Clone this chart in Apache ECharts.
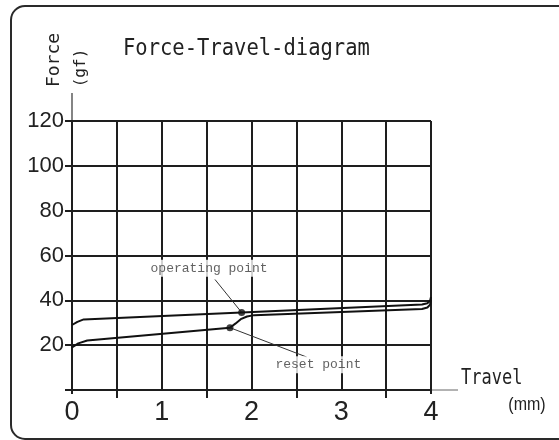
<!DOCTYPE html>
<html>
<head>
<meta charset="utf-8">
<script src="https://cdn.jsdelivr.net/npm/echarts@6/dist/echarts.min.js"></script>
<style>
  html, body { margin: 0; padding: 0; background: #fff; }
  #chart { width: 559px; height: 440px; }
</style>
</head>
<body>
<div id="chart"></div>
<script>
// travel (mm) / force (gf)
const operatingX = [0, 0.06, 0.13, 1.89, 3.9, 3.96, 3.99, 4.0];
const operatingY = [29, 30.4, 31.5, 34.6, 38.1, 38.7, 39.8, 41.5];
const resetX = [0, 0.07, 0.17, 1.76, 1.82, 1.88, 1.95, 2.03, 3.9, 3.96, 3.99, 4.0];
const resetY = [19, 20.8, 22.1, 27.8, 29.6, 31.6, 32.8, 33.4, 36.1, 36.8, 38.1, 40.2];

const operatingPoint = [1.89, 34.6];
const resetPoint = [1.76, 27.8];

// annotation anchors (data coords)
const operatingLabelAt = [1.527, 54.3];
const operatingLeaderFrom = [1.593, 49.3];
const resetLabelAt = [2.745, 11.3];
const resetLeaderTo = [2.615, 14.7];

const xTicks = [0, 1, 2, 3, 4];
const yTicks = [0, 20, 40, 60, 80, 100, 120];

const zip = (xs, ys) => xs.map((x, i) => [x, ys[i]]);

const ink = '#1e1e1e';
const monoFont = '"DejaVu Sans Mono", monospace';

const chart = echarts.init(document.getElementById('chart'));

const baseGraphic = [
  {
    id: 'frame',
    type: 'rect',
    shape: { x: 11, y: 6, width: 640, height: 433, r: 14 },
    style: { fill: null, stroke: '#2a2a2a', lineWidth: 2 },
    silent: true
  },
  {
    id: 'title',
    type: 'text',
    x: 123, y: 49,
    scaleY: 1.1,
    style: {
      text: 'Force-Travel-diagram',
      font: '20.5px ' + monoFont,
      fill: '#222',
      verticalAlign: 'middle',
      align: 'left'
    }
  },
  {
    id: 'yname',
    type: 'text',
    x: 54, y: 60,
    rotation: Math.PI / 2,
    style: {
      text: 'Force',
      font: '18px ' + monoFont,
      fill: '#222',
      align: 'center',
      verticalAlign: 'middle'
    }
  },
  {
    id: 'yunit',
    type: 'text',
    x: 81, y: 68,
    rotation: Math.PI / 2,
    style: {
      text: '(gf)',
      font: '16px ' + monoFont,
      fill: '#222',
      align: 'center',
      verticalAlign: 'middle'
    }
  },
  {
    id: 'xname',
    type: 'text',
    x: 461, y: 378,
    scaleY: 1.25,
    style: {
      text: 'Travel',
      font: '17px ' + monoFont,
      fill: '#222',
      align: 'left',
      verticalAlign: 'middle'
    }
  },
  {
    id: 'xunit',
    type: 'text',
    x: 527, y: 405,
    scaleY: 1.15,
    style: {
      text: '(mm)',
      font: '16px "Liberation Sans", Arial, sans-serif',
      fill: '#222',
      align: 'center',
      verticalAlign: 'middle'
    }
  }
];

chart.setOption({
  animation: false,
  backgroundColor: '#fff',
  grid: { left: 72, right: 128, top: 121, bottom: 50, containLabel: false },
  xAxis: {
    type: 'value',
    min: xTicks[0],
    max: xTicks[xTicks.length - 1],
    interval: 1,
    axisLine: { show: true, lineStyle: { color: ink, width: 2 } },
    axisTick: { show: false },
    minorTick: { show: true, splitNumber: 2, length: 8, lineStyle: { color: ink, width: 2 } },
    axisLabel: {
      margin: 9,
      fontFamily: '"Liberation Sans", Arial, sans-serif',
      fontSize: 27,
      color: '#222'
    },
    splitLine: { show: true, lineStyle: { color: ink, width: 2 } },
    minorSplitLine: { show: true, lineStyle: { color: ink, width: 2 } }
  },
  yAxis: {
    type: 'value',
    min: yTicks[0],
    max: yTicks[yTicks.length - 1],
    interval: 20,
    axisLine: { show: true, lineStyle: { color: ink, width: 2 } },
    axisTick: { show: true, length: 7, lineStyle: { color: ink, width: 2 } },
    axisLabel: {
      formatter: v => (v === 0 ? '' : String(v)),
      margin: 8,
      fontFamily: '"Liberation Sans", Arial, sans-serif',
      fontSize: 22,
      color: '#222'
    },
    splitLine: { show: true, lineStyle: { color: ink, width: 2 } }
  },
  series: [
    {
      name: 'operating',
      type: 'line',
      data: zip(operatingX, operatingY),
      symbol: 'none',
      lineStyle: { color: '#111', width: 2 },
      z: 3
    },
    {
      name: 'reset',
      type: 'line',
      data: zip(resetX, resetY),
      symbol: 'none',
      lineStyle: { color: '#111', width: 2 },
      z: 3
    },
    {
      name: 'leader-op',
      type: 'line',
      data: [operatingLeaderFrom, operatingPoint],
      symbol: 'none',
      lineStyle: { color: '#333', width: 1 },
      z: 3
    },
    {
      name: 'leader-reset',
      type: 'line',
      data: [resetPoint, resetLeaderTo],
      symbol: 'none',
      lineStyle: { color: '#333', width: 1 },
      z: 3
    },
    {
      name: 'points',
      type: 'scatter',
      data: [operatingPoint, resetPoint],
      symbol: 'circle',
      symbolSize: 7,
      itemStyle: { color: '#111' },
      z: 4
    },
    {
      name: 'labels',
      type: 'scatter',
      symbolSize: 0,
      data: [
        { value: operatingLabelAt, name: 'operating point' },
        { value: resetLabelAt, name: 'reset point' }
      ],
      label: {
        show: true,
        position: 'inside',
        formatter: p => p.name,
        fontFamily: '"Liberation Mono", "Courier New", monospace',
        fontSize: 13,
        color: '#3a3a3a',
        backgroundColor: '#fff',
        padding: [2, 3]
      },
      z: 5
    }
  ],
  graphic: baseGraphic
});

// axis extensions beyond the plot area
const topLeft = chart.convertToPixel({ gridIndex: 0 }, [0, 120]);
const rightEnd = chart.convertToPixel({ gridIndex: 0 }, [4, 0]);
const origin = chart.convertToPixel({ gridIndex: 0 }, [0, 0]);
chart.setOption({
  graphic: baseGraphic.concat([
    {
      id: 'yext',
      type: 'line',
      shape: { x1: topLeft[0], y1: topLeft[1], x2: topLeft[0], y2: topLeft[1] - 28 },
      style: { stroke: '#333', lineWidth: 1.2 },
      silent: true
    },
    {
      id: 'xext',
      type: 'line',
      shape: { x1: rightEnd[0], y1: rightEnd[1], x2: rightEnd[0] + 27, y2: rightEnd[1] },
      style: { stroke: '#666', lineWidth: 1 },
      silent: true
    },
    {
      id: 'x0stub',
      type: 'line',
      shape: { x1: origin[0], y1: origin[1], x2: origin[0], y2: origin[1] + 4 },
      style: { stroke: ink, lineWidth: 2 },
      silent: true
    },
    {
      id: 'x4stub',
      type: 'line',
      shape: { x1: rightEnd[0], y1: rightEnd[1], x2: rightEnd[0], y2: rightEnd[1] + 4 },
      style: { stroke: ink, lineWidth: 2 },
      silent: true
    }
  ])
});
</script>
</body>
</html>
